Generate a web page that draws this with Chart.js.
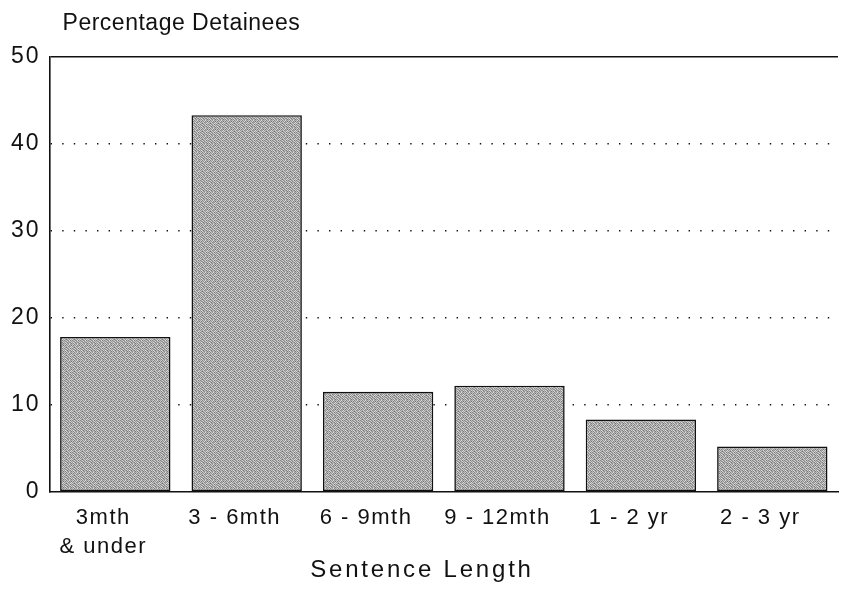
<!DOCTYPE html>
<html><head><meta charset="utf-8">
<script src="https://cdn.jsdelivr.net/npm/chart.js@4/dist/chart.umd.min.js"></script>
<style>html,body{margin:0;padding:0;background:#fff;} #wrap{width:853px;height:616px;}</style>
</head><body><div id="wrap"><canvas id="c" width="853" height="616"></canvas></div>
<script>
const categories = [["3mth", "& under"], "3 - 6mth", "6 - 9mth", "9 - 12mth", "1 - 2 yr", "2 - 3 yr"];
const percentages = [17.8, 43.3, 11.5, 12.2, 8.3, 5.2];
const yTickValues = [0, 10, 20, 30, 40, 50];
const yTitle = "Percentage Detainees";
const xTitle = "Sentence Length";

const FONT = '"Liberation Sans", Arial, Helvetica, sans-serif';

const SHADES = [
  [162, 212, 132, 192, 152, 222, 142, 182],
  [202, 122, 182, 152, 212, 132, 192, 112],
  [142, 192, 162, 222, 122, 172, 152, 212],
  [212, 152, 112, 172, 202, 142, 222, 162],
  [132, 182, 202, 142, 162, 212, 122, 192],
  [192, 142, 152, 212, 132, 182, 202, 152],
  [152, 222, 172, 122, 192, 152, 132, 212],
  [182, 132, 212, 162, 142, 202, 172, 122]
];

function makePattern(ctx) {
  const c = document.createElement('canvas');
  c.width = 8; c.height = 8;
  const p = c.getContext('2d');
  for (let y = 0; y < 8; y++) for (let x = 0; x < 8; x++) {
    const v = SHADES[y][x];
    p.fillStyle = `rgb(${v},${v},${v})`;
    p.fillRect(x, y, 1, 1);
  }
  return ctx.createPattern(c, 'repeat');
}

function wrapSpacing(obj, method, sp) {
  const key = '__wrapped_' + method;
  if (!obj || obj[key]) return;
  const orig = obj[method];
  obj[method] = function (...args) {
    const ctx = this.ctx;
    ctx.save();
    ctx.letterSpacing = sp;
    const r = orig.apply(this, args);
    ctx.restore();
    return r;
  };
  obj[key] = true;
}

const textPlugin = {
  id: 'textPlugin',
  afterLayout(chart) {
    wrapSpacing(chart.scales.x, 'drawLabels', '1.5px');
    wrapSpacing(chart.scales.y, 'drawLabels', '2px');
    wrapSpacing(chart.titleBlock, 'draw', '2.8px');
  },
  afterDraw(chart) {
    const ctx = chart.ctx;
    ctx.save();
    ctx.letterSpacing = '0.5px';
    ctx.font = '23px ' + FONT;
    ctx.fillStyle = '#111';
    ctx.textAlign = 'left';
    ctx.textBaseline = 'alphabetic';
    ctx.fillText(yTitle, chart.chartArea.left + 13, 30);
    ctx.restore();
  }
};

let pattern = null;
const chart = new Chart(document.getElementById('c'), {
  type: 'bar',
  data: {
    labels: categories,
    datasets: [{
      data: percentages,
      backgroundColor: (c) => { if (!pattern) pattern = makePattern(c.chart.ctx); return pattern; },
      borderColor: '#111',
      borderWidth: 1.6,
      borderSkipped: false,
      barPercentage: 0.84,
      categoryPercentage: 1.0
    }]
  },
  options: {
    responsive: false,
    animation: false,
    devicePixelRatio: 1,
    layout: { padding: { top: 57, left: 6, right: 15, bottom: 34 } },
    plugins: {
      legend: { display: false },
      tooltip: { enabled: false },
      title: {
        display: true, position: 'bottom', align: 'center', text: xTitle, color: '#111',
        font: { family: FONT, size: 24, weight: 'normal', lineHeight: 1.0 },
        padding: { top: -15, bottom: 0 }
      }
    },
    scales: {
      x: {
        grid: { display: false, drawTicks: false },
        border: { display: true, color: '#111', width: 1.6 },
        ticks: {
          color: '#111', font: { family: FONT, size: 22, lineHeight: 1.3 },
          padding: 12, maxRotation: 0, autoSkip: false, labelOffset: -12
        }
      },
      y: {
        min: 0, max: 50,
        afterBuildTicks: (scale) => { scale.ticks = yTickValues.map(v => ({ value: v })); },
        grid: {
          drawTicks: false,
          color: (c) => (c.tick && c.tick.value === 0) ? 'rgba(0,0,0,0)' : '#111',
          lineWidth: (c) => (c.tick && c.tick.value === 50) ? 1.6 : 1.4
        },
        border: {
          display: true, color: '#111', width: 1.6,
          dash: (c) => (c.tick && c.tick.value > 0 && c.tick.value < 50) ? [1.4, 10.2] : []
        },
        ticks: { color: '#111', font: { family: FONT, size: 23 }, padding: 9 }
      }
    }
  },
  plugins: [textPlugin]
});
</script>
</body></html>
